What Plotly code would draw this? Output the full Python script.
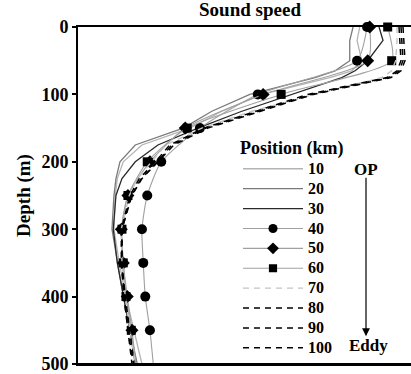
import plotly.graph_objects as go

# Depth levels (m)
depth_fine = [0, 20, 50, 65, 75, 100, 125, 150, 175, 200, 225, 250, 300, 350, 400, 450, 500]
depth_marked = [0, 50, 100, 150, 200, 250, 300, 350, 400, 450, 500]

# Sound speed profiles (m/s) by position (km)
ss_10 = [1537.3, 1536.9, 1537.6, 1536.1, 1532.8, 1522.6, 1516.6, 1511.8, 1504.6, 1501.8, 1500.9, 1500.6, 1500.4, 1501.2, 1502.2, 1503.4, 1504.6]
ss_20 = [1536.3, 1535.8, 1535.8, 1533.6, 1530.6, 1520.8, 1515.1, 1510.8, 1503.6, 1501.3, 1500.7, 1500.4, 1500.1, 1500.9, 1501.8, 1502.8, 1503.9]
ss_30 = [1540.2, 1540.8, 1538.5, 1536.6, 1534.6, 1527.1, 1519.6, 1513.0, 1507.0, 1503.6, 1501.6, 1500.7, 1500.3, 1500.9, 1501.9, 1502.8, 1503.6]
ss_40 = [1538.4, 1536.9, 1522.0, 1513.3, 1507.5, 1505.4, 1504.6, 1504.8, 1505.1, 1505.8, 1506.3]
ss_50 = [1538.8, 1538.5, 1522.8, 1511.1, 1505.8, 1502.5, 1501.5, 1501.8, 1502.4, 1503.1, 1503.7]
ss_60 = [1541.5, 1542.1, 1525.5, 1511.4, 1505.4, 1502.5, 1501.6, 1501.8, 1502.2, 1503.0, 1503.6]
ss_70 = [1542.9, 1542.9, 1542.7, 1542.1, 1540.6, 1530.6, 1521.1, 1513.6, 1508.2, 1506.0, 1503.9, 1502.7, 1501.5, 1501.6, 1502.1, 1502.8, 1503.6]
ss_80 = [1543.2, 1543.3, 1543.5, 1542.9, 1541.4, 1529.5, 1521.7, 1513.9, 1508.8, 1506.6, 1504.2, 1502.8, 1501.5, 1501.5, 1501.9, 1502.5, 1503.3]
ss_90 = [1543.5, 1543.6, 1543.8, 1543.2, 1541.7, 1530.0, 1522.0, 1514.2, 1509.1, 1506.9, 1504.5, 1503.0, 1501.6, 1501.6, 1502.1, 1502.7, 1503.4]
ss_100 = [1543.8, 1543.9, 1544.1, 1543.5, 1542.0, 1530.3, 1522.3, 1514.5, 1509.4, 1507.0, 1504.6, 1503.1, 1501.6, 1501.6, 1501.9, 1502.5, 1503.1]

depth_ticks = [0, 100, 200, 300, 400, 500]

FONT = "Liberation Serif"

def label(s):
    return '<span style="font-size:16px">' + s + '</span>'

fig = go.Figure()

for name, vals, col in [("10", ss_10, "#b4b4b4"), ("20", ss_20, "#7a7a7a"), ("30", ss_30, "#2a2a2a")]:
    fig.add_trace(go.Scatter(x=vals, y=depth_fine, mode="lines", name=label(name),
                             line=dict(color=col, width=1.3)))

marker_on = [0 if d >= 500 else 1 for d in depth_marked]
for name, vals, sym, sz in [("40", ss_40, "circle", 10), ("50", ss_50, "diamond", 10), ("60", ss_60, "square", 9)]:
    fig.add_trace(go.Scatter(x=vals, y=depth_marked, mode="lines+markers", name=label(name),
                             line=dict(color="#a0a0a0", width=1.1, shape="spline", smoothing=0.6),
                             marker=dict(symbol=sym, size=[s * sz for s in marker_on], color="black",
                                         opacity=1, line=dict(width=0)),
                             cliponaxis=False))

for name, vals, col, w in [("70", ss_70, "#c4c4c4", 1.4), ("80", ss_80, "#000000", 1.5),
                           ("90", ss_90, "#000000", 1.5), ("100", ss_100, "#000000", 1.5)]:
    fig.add_trace(go.Scatter(x=vals, y=depth_fine, mode="lines", name=label(name),
                             line=dict(color=col, width=w, dash="6px,5px")))

W, H = 411, 374
L, R, T, B = 78, 0, 27, 8
pw, ph = W - L - R, H - T - B

def px(xp):
    return (xp - L) / pw

def py(yp):
    return 1 - (yp - T) / ph

fig.update_layout(
    width=W, height=H,
    margin=dict(l=L, r=R, t=T, b=B),
    paper_bgcolor="white", plot_bgcolor="white",
    title=dict(text="Sound speed", x=250 / W, xanchor="center", y=1 - 9 / H, yanchor="middle",
               font=dict(family=FONT, size=19, weight="bold", color="black")),
    xaxis=dict(range=[1495, 1545], side="top", showline=True, linecolor="black", linewidth=2,
               mirror=True, ticks="", showticklabels=False, showgrid=False, zeroline=False),
    yaxis=dict(range=[500, 0], showline=True, linecolor="black", linewidth=2, ticks="outside",
               ticklen=4, tickwidth=1.5, tickcolor="black", tickvals=depth_ticks,
               ticklabeloverflow="allow",
               tickfont=dict(family=FONT, size=18, weight="bold", color="black"),
               showgrid=False, zeroline=False,
               title=dict(text="Depth (m)", standoff=6,
                          font=dict(family=FONT, size=19, weight="bold", color="black"))),
    legend=dict(x=px(238), y=py(131), xanchor="left", yanchor="top",
                title=dict(text="Position (km)", font=dict(family=FONT, size=18, weight="bold", color="black")),
                font=dict(family=FONT, size=13, weight="bold", color="black"),
                bgcolor="rgba(0,0,0,0)", itemwidth=60, tracegroupgap=0),
    showlegend=True,
    shapes=[dict(type="line", xref="paper", yref="paper", x0=0, x1=1, y0=0, y1=0,
                 line=dict(color="black", width=2))],
    annotations=[
        dict(text="OP", xref="paper", yref="paper", x=px(366), y=py(170), showarrow=False,
             xanchor="center", yanchor="middle",
             font=dict(family=FONT, size=17, weight="bold", color="black")),
        dict(text="Eddy", xref="paper", yref="paper", x=px(368), y=py(347), showarrow=False,
             xanchor="center", yanchor="middle",
             font=dict(family=FONT, size=17, weight="bold", color="black")),
        dict(text="", xref="paper", yref="paper", x=px(366), y=py(338), ax=0, ay=-160,
             showarrow=True, arrowhead=2, arrowsize=1.3, arrowwidth=1.2, arrowcolor="black"),
    ],
)

fig.write_html("out.html")
